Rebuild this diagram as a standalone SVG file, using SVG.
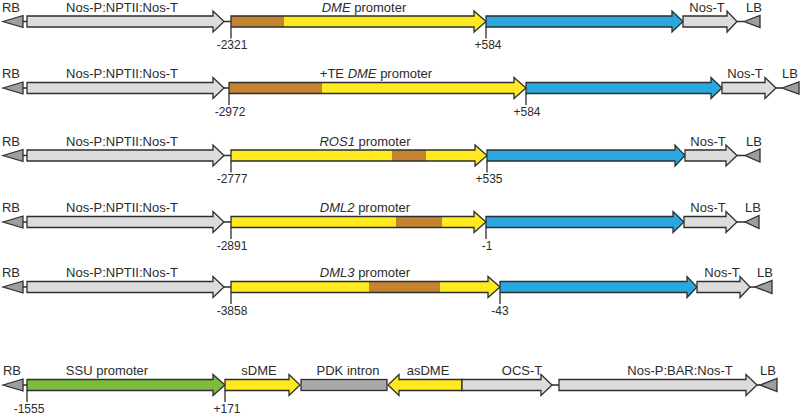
<svg xmlns="http://www.w3.org/2000/svg" width="800" height="416" viewBox="0 0 800 416">
<style>
  text { font-family: "Liberation Sans", Arial, sans-serif; fill: #2b2b2b; }
  .lbl { font-size: 13px; text-anchor: middle; }
  .tk { font-size: 12px; text-anchor: middle; }
  .ol { stroke: #2e2e2e; stroke-width: 1.3; stroke-linejoin: miter; }
  .gray { fill: #dcdcdc; }
  .tri { fill: #9e9e9e; }
  .yel { fill: #ffe91f; }
  .brn { fill: #c4832e; }
  .blu { fill: #2aa7df; }
  .grn { fill: #7cbb3d; }
  .pdk { fill: #a8a8a8; }
  .none { fill: none; }
  .ln { stroke: #2e2e2e; stroke-width: 1.3; fill: none; }
</style>
<rect width="800" height="416" fill="#ffffff"/>

<!-- Row 1 -->
<g id="row1">
  <g id="r1-rb"><path class="tri ol" d="M3 21.5 L23 15.5 L23 27.5 Z"/><text class="lbl" x="11" y="11.5">RB</text></g>
  <g id="r1-npt"><path class="gray ol" d="M27 16 H213 V11 L224 21.5 L213 32 V27 H27 Z"/><text class="lbl" x="122" y="11.5">Nos-P:NPTII:Nos-T</text></g>
  <g id="r1-prom">
    <path class="yel" d="M231 16 H474 V11 L486 21.5 L474 32 V27 H231 Z"/>
    <rect class="brn" x="231" y="16" width="53" height="11"/>
    <path class="none ol" d="M231 16 H474 V11 L486 21.5 L474 32 V27 H231 Z"/>
    <text class="lbl" x="364" y="11.5"><tspan font-style="italic">DME</tspan> promoter</text>
  </g>
  <g id="r1-gene"><path class="blu ol" d="M486 16 H672 V11 L683 21.5 L672 32 V27 H486 Z"/></g>
  <g id="r1-nost"><path class="gray ol" d="M683 16 H727 V11 L737 21.5 L727 32 V27 H683 Z"/><text class="lbl" x="707" y="11.5">Nos-T</text></g>
  <g id="r1-lb"><path class="tri ol" d="M744 21.5 L760 15.5 L760 27.5 Z"/><text class="lbl" x="754" y="11.5">LB</text></g>
  <g id="r1-ticks"><path class="ln" d="M231 27 V38.5 M486 27 V38.5"/><text class="tk" x="232" y="49">-2321</text><text class="tk" x="488" y="49">+584</text></g>
</g>

<!-- Row 2 -->
<g id="row2">
  <g id="r2-rb"><path class="tri ol" d="M3 88 L23 82 L23 94 Z"/><text class="lbl" x="11" y="78">RB</text></g>
  <g id="r2-npt"><path class="gray ol" d="M27 82.5 H213 V77.5 L224 88 L213 98.5 V93.5 H27 Z"/><text class="lbl" x="122" y="78">Nos-P:NPTII:Nos-T</text></g>
  <g id="r2-prom">
    <path class="yel" d="M229 82.5 H514 V77.5 L526 88 L514 98.5 V93.5 H229 Z"/>
    <rect class="brn" x="229" y="82.5" width="93" height="11"/>
    <path class="none ol" d="M229 82.5 H514 V77.5 L526 88 L514 98.5 V93.5 H229 Z"/>
    <text class="lbl" x="376" y="78">+TE <tspan font-style="italic">DME</tspan> promoter</text>
  </g>
  <g id="r2-gene"><path class="blu ol" d="M526 82.5 H711 V77.5 L722 88 L711 98.5 V93.5 H526 Z"/></g>
  <g id="r2-nost"><path class="gray ol" d="M722 82.5 H765 V77.5 L776 88 L765 98.5 V93.5 H722 Z"/><text class="lbl" x="745" y="78">Nos-T</text></g>
  <g id="r2-lb"><path class="tri ol" d="M782 88 L799 82 L799 94 Z"/><text class="lbl" x="790" y="78">LB</text></g>
  <g id="r2-ticks"><path class="ln" d="M229 93.5 V105 M526 93.5 V105"/><text class="tk" x="230" y="115.5">-2972</text><text class="tk" x="527" y="115.5">+584</text></g>
</g>

<!-- Row 3 -->
<g id="row3">
  <g id="r3-rb"><path class="tri ol" d="M3 155.5 L23 149.5 L23 161.5 Z"/><text class="lbl" x="11" y="145.5">RB</text></g>
  <g id="r3-npt"><path class="gray ol" d="M27 150 H213 V145 L224 155.5 L213 166 V161 H27 Z"/><text class="lbl" x="122" y="145.5">Nos-P:NPTII:Nos-T</text></g>
  <g id="r3-prom">
    <path class="yel" d="M231 150 H475 V145 L487 155.5 L475 166 V161 H231 Z"/>
    <rect class="brn" x="392" y="150" width="34" height="11"/>
    <path class="none ol" d="M231 150 H475 V145 L487 155.5 L475 166 V161 H231 Z"/>
    <text class="lbl" x="365" y="145.5"><tspan font-style="italic">ROS1</tspan> promoter</text>
  </g>
  <g id="r3-gene"><path class="blu ol" d="M487 150 H675 V145 L685 155.5 L675 166 V161 H487 Z"/></g>
  <g id="r3-nost"><path class="gray ol" d="M685 150 H726 V145 L737 155.5 L726 166 V161 H685 Z"/><text class="lbl" x="708" y="145.5">Nos-T</text></g>
  <g id="r3-lb"><path class="tri ol" d="M745 155.5 L760 149 L760 162 Z"/><text class="lbl" x="754" y="145.5">LB</text></g>
  <g id="r3-ticks"><path class="ln" d="M231 161 V172.5 M487 161 V172.5"/><text class="tk" x="232" y="183">-2777</text><text class="tk" x="489" y="183">+535</text></g>
</g>

<!-- Row 4 -->
<g id="row4">
  <g id="r4-rb"><path class="tri ol" d="M3 222 L23 216 L23 228 Z"/><text class="lbl" x="11" y="212">RB</text></g>
  <g id="r4-npt"><path class="gray ol" d="M27 216.5 H213 V211.5 L224 222 L213 232.5 V227.5 H27 Z"/><text class="lbl" x="122" y="212">Nos-P:NPTII:Nos-T</text></g>
  <g id="r4-prom">
    <path class="yel" d="M231 216.5 H474 V211.5 L486 222 L474 232.5 V227.5 H231 Z"/>
    <rect class="brn" x="396" y="216.5" width="46" height="11"/>
    <path class="none ol" d="M231 216.5 H474 V211.5 L486 222 L474 232.5 V227.5 H231 Z"/>
    <text class="lbl" x="365" y="212"><tspan font-style="italic">DML2</tspan> promoter</text>
  </g>
  <g id="r4-gene"><path class="blu ol" d="M486 216.5 H673 V211.5 L684 222 L673 232.5 V227.5 H486 Z"/></g>
  <g id="r4-nost"><path class="gray ol" d="M684 216.5 H726 V211.5 L737 222 L726 232.5 V227.5 H684 Z"/><text class="lbl" x="708" y="212">Nos-T</text></g>
  <g id="r4-lb"><path class="tri ol" d="M745 222 L759 215.5 L759 228.5 Z"/><text class="lbl" x="753" y="212">LB</text></g>
  <g id="r4-ticks"><path class="ln" d="M231 227.5 V239 M486 227.5 V239"/><text class="tk" x="232" y="249.5">-2891</text><text class="tk" x="487" y="249.5">-1</text></g>
</g>

<!-- Row 5 -->
<g id="row5">
  <g id="r5-rb"><path class="tri ol" d="M3 287 L23 281 L23 293 Z"/><text class="lbl" x="11" y="277">RB</text></g>
  <g id="r5-npt"><path class="gray ol" d="M27 281.5 H213 V276.5 L224 287 L213 297.5 V292.5 H27 Z"/><text class="lbl" x="122" y="277">Nos-P:NPTII:Nos-T</text></g>
  <g id="r5-prom">
    <path class="yel" d="M231 281.5 H488 V276.5 L500 287 L488 297.5 V292.5 H231 Z"/>
    <rect class="brn" x="369" y="281.5" width="71" height="11"/>
    <path class="none ol" d="M231 281.5 H488 V276.5 L500 287 L488 297.5 V292.5 H231 Z"/>
    <text class="lbl" x="365" y="277"><tspan font-style="italic">DML3</tspan> promoter</text>
  </g>
  <g id="r5-gene"><path class="blu ol" d="M500 281.5 H687 V276.5 L697 287 L687 297.5 V292.5 H500 Z"/></g>
  <g id="r5-nost"><path class="gray ol" d="M697 281.5 H740 V276.5 L750 287 L740 297.5 V292.5 H697 Z"/><text class="lbl" x="722" y="277">Nos-T</text></g>
  <g id="r5-lb"><path class="tri ol" d="M755 287 L772 280.5 L772 293.5 Z"/><text class="lbl" x="765" y="277">LB</text></g>
  <g id="r5-ticks"><path class="ln" d="M231 292.5 V304 M500 292.5 V304"/><text class="tk" x="232" y="314.5">-3858</text><text class="tk" x="500" y="314.5">-43</text></g>
</g>

<!-- Bottom row -->
<g id="row6">
  <g id="r6-rb"><path class="tri ol" d="M3 385 L23 379 L23 391 Z"/><text class="lbl" x="12" y="375">RB</text></g>
  <g id="r6-ssu"><path class="grn ol" d="M27 379.5 H213 V374.5 L225 385 L213 395.5 V390.5 H27 Z"/><text class="lbl" x="107" y="375">SSU promoter</text></g>
  <g id="r6-sdme"><path class="yel ol" d="M225 379.5 H289 V374.5 L300 385 L289 395.5 V390.5 H225 Z"/><text class="lbl" x="259" y="375">sDME</text></g>
  <g id="r6-pdk"><rect class="pdk ol" x="301" y="379.5" width="86" height="11"/><text class="lbl" x="348" y="375">PDK intron</text></g>
  <g id="r6-asdme"><path class="yel ol" d="M462 379.5 H399 V374.5 L388 385 L399 395.5 V390.5 H462 Z"/><text class="lbl" x="428" y="375">asDME</text></g>
  <g id="r6-ocs"><path class="gray ol" d="M462 379.5 H541 V374.5 L552 385 L541 395.5 V390.5 H462 Z"/><text class="lbl" x="522" y="375">OCS-T</text></g>
  <g id="r6-bar"><path class="gray ol" d="M559 379.5 H746 V374.5 L757 385 L746 395.5 V390.5 H559 Z"/><text class="lbl" x="680" y="375">Nos-P:BAR:Nos-T</text></g>
  <g id="r6-lb"><path class="tri ol" d="M760 385 L777 378.5 L777 391.5 Z"/><text class="lbl" x="768" y="375">LB</text></g>
  <g id="r6-ticks"><path class="ln" d="M27 390.5 V402 M225 390.5 V402"/><text class="tk" x="29" y="412.5">-1555</text><text class="tk" x="227" y="412.5">+171</text></g>
</g>

<!-- Connectors -->
<g id="connectors">
  <path class="ln" d="M23 21.5 H27 M224 21.5 H231 M737 21.5 H744"/>
  <path class="ln" d="M23 88 H27 M224 88 H229 M776 88 H782"/>
  <path class="ln" d="M23 155.5 H27 M224 155.5 H231 M737 155.5 H745"/>
  <path class="ln" d="M23 222 H27 M224 222 H231 M737 222 H745"/>
  <path class="ln" d="M23 287 H27 M224 287 H231 M750 287 H755"/>
  <path class="ln" d="M23 385 H27 M552 385 H559 M757 385 H760"/>
</g>
</svg>
